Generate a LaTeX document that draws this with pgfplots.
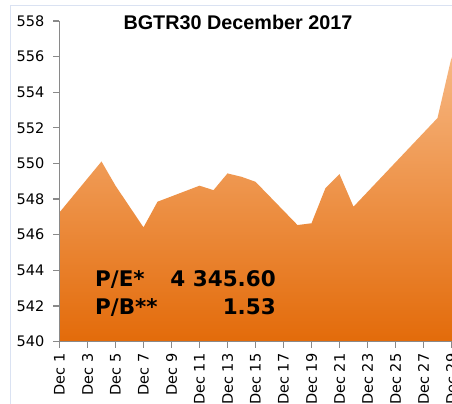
\documentclass[border=0pt]{standalone}
\usepackage{fontspec}
\setmainfont{DejaVu Sans}
\newfontfamily\titlefont{Liberation Sans}
\usepackage{pgfplots}
\pgfplotsset{compat=1.18}
\definecolor{axgray}{RGB}{137,137,137}
\definecolor{bordercol}{RGB}{218,226,242}
\definecolor{toporange}{RGB}{247,183,130}
\definecolor{botorange}{RGB}{227,107,10}
\begin{document}
\begin{tikzpicture}
\useasboundingbox (0,0) rectangle (452bp,404bp);
\clip (0,0) rectangle (452bp,404bp);
\fill[white] (0,0) rectangle (452bp,404bp);
\draw[bordercol, line width=1bp] (10bp,-5bp) |- (470bp,398bp);
\begin{axis}[
  at={(59.5bp,62.5bp)}, anchor=south west,
  scale only axis, width=392bp, height=320.5bp,
  xmin=1, xmax=29, ymin=540, ymax=558,
  axis lines*=left,
  axis on top,
  clip=false,
  xtick={1,3,...,29},
  xticklabels={Dec 1,Dec 3,Dec 5,Dec 7,Dec 9,Dec 11,Dec 13,Dec 15,Dec 17,Dec 19,Dec 21,Dec 23,Dec 25,Dec 27,Dec 29},
  ytick={540,542,...,558},
  tick align=outside,
  major tick length=6bp,
  axis line style={axgray, line width=1.3bp},
  tick style={axgray, line width=1.3bp},
  /pgf/number format/assume math mode=true,
  tick label style={font=\fontsize{14.5bp}{17bp}\selectfont, text=black},
  x tick label style={rotate=90, anchor=east, inner sep=0pt, xshift=-6bp},
  y tick label style={anchor=east, inner sep=0pt, xshift=-9bp},
]
\addplot[draw=none, shading=axis, top color=toporange, bottom color=botorange] coordinates {
(1,547.25) (4,550.11) (5,548.75) (6,547.58) (7,546.41) (8,547.85)
(11,548.75) (12,548.50) (13,549.44) (14,549.25) (15,548.97)
(18,546.54) (19,546.64) (20,548.62) (21,549.40) (22,547.57)
(27,551.72) (28,552.55) (29,555.95)
} \closedcycle;
\end{axis}
\node[anchor=base, inner sep=0pt] at (238bp,374bp) {\titlefont\bfseries\fontsize{19.8bp}{22bp}\selectfont BGTR30 December 2017};
\node[anchor=base west, inner sep=0pt] at (95bp,117.5bp) {\bfseries\fontsize{21.5bp}{24bp}\selectfont P/E*};
\node[anchor=base east, inner sep=0pt] at (276bp,117.5bp) {\bfseries\fontsize{21.5bp}{24bp}\selectfont 4 345.60};
\node[anchor=base west, inner sep=0pt] at (95bp,89bp) {\bfseries\fontsize{21.5bp}{24bp}\selectfont P/B**};
\node[anchor=base east, inner sep=0pt] at (276bp,89bp) {\bfseries\fontsize{21.5bp}{24bp}\selectfont 1.53};
\end{tikzpicture}
\end{document}
